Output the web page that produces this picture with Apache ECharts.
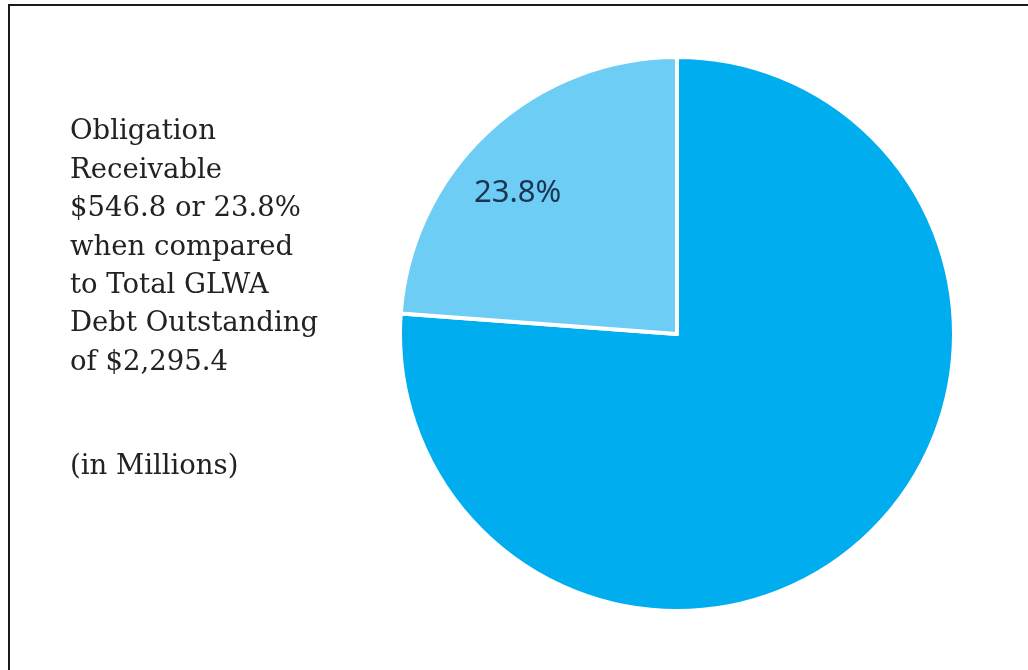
<!DOCTYPE html>
<html>
<head>
<meta charset="utf-8">
<script src="https://cdn.jsdelivr.net/npm/echarts@6/dist/echarts.min.js"></script>
<style>
html,body{margin:0;padding:0;background:#fff;}
#chart{width:1028px;height:670px;}
</style>
</head>
<body>
<div id="chart"></div>
<script>
var categories = ['Other GLWA Debt Outstanding', 'Obligation Receivable'];
var values = [1748.6, 546.8];
var sliceColors = ['#00AEEF', '#6DCDF5'];
var noteLines = ['Obligation', 'Receivable', '$546.8 or 23.8%', 'when compared', 'to Total GLWA', 'Debt Outstanding', 'of $2,295.4'];
var unitNote = '(in Millions)';

var chart = echarts.init(document.getElementById('chart'));
var total = values.reduce(function(a,b){return a+b;},0);
chart.setOption({
  animation: false,
  title: [{
    text: noteLines.join('\n'),
    left: 65, top: 108,
    textStyle: {fontFamily: 'DejaVu Serif', fontSize: 27.5, fontWeight: 'normal', color: '#222', lineHeight: 38.4}
  }, {
    text: unitNote,
    left: 65, top: 443,
    textStyle: {fontFamily: 'DejaVu Serif', fontSize: 27.5, fontWeight: 'normal', color: '#222', lineHeight: 38}
  }],
  graphic: [{
    type: 'polyline',
    shape: {points: [[9, 670], [9, 5], [1028, 5]]},
    style: {stroke: '#1a1a1a', lineWidth: 2, fill: null}
  }],
  series: [{
    type: 'pie',
    center: [677, 334],
    radius: [0, 277],
    startAngle: 90,
    clockwise: true,
    silent: true,
    itemStyle: {borderColor: '#fff', borderWidth: 4},
    data: categories.map(function(c, i){
      return {
        name: c, value: values[i],
        itemStyle: {color: sliceColors[i]},
        label: {show: i === 1}
      };
    }),
    label: {
      position: 'inside',
      formatter: function(p){ return (p.value / total * 100).toFixed(1) + '%'; },
      fontFamily: 'Noto Sans', fontSize: 31, color: '#1B3550'
    },
    labelLine: {show: false},
    labelLayout: {dx: -63, dy: -37}
  }]
});
</script>
</body>
</html>
